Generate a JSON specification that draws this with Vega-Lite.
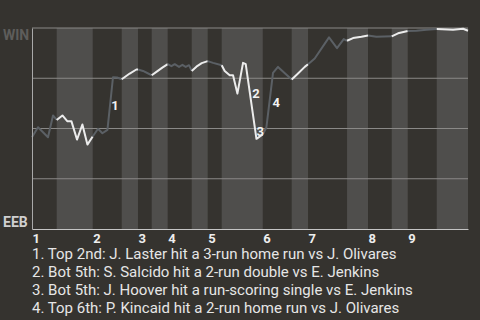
{
  "$schema": "https://vega.github.io/schema/vega-lite/v6.json",
  "width": 436,
  "height": 201,
  "autosize": {"type": "none"},
  "padding": {"left": 32, "top": 28, "right": 12, "bottom": 91},
  "background": "#35332f",
  "config": {"view": {"stroke": null}, "font": "Roboto"},
  "title": {
    "text": [
      "1. Top 2nd: J. Laster hit a 3-run home run vs J. Olivares",
      "2. Bot 5th: S. Salcido hit a 2-run double vs E. Jenkins",
      "3. Bot 5th: J. Hoover hit a run-scoring single vs E. Jenkins",
      "4. Top 6th: P. Kincaid hit a 2-run home run vs J. Olivares"
    ],
    "orient": "bottom",
    "anchor": "start",
    "frame": "group",
    "font": "Roboto",
    "fontSize": 15,
    "fontWeight": "normal",
    "color": "#e6e6e6",
    "lineHeight": 18,
    "offset": 2
  },
  "datasets": {
    "halves": [
      {"half": "T1", "side": "top", "start": 0, "end": 5.10},
      {"half": "B1", "side": "bot", "start": 5.10, "end": 12.53},
      {"half": "T2", "side": "top", "start": 12.53, "end": 18.52},
      {"half": "B2", "side": "bot", "start": 18.52, "end": 21.88},
      {"half": "T3", "side": "top", "start": 21.88, "end": 24.71},
      {"half": "B3", "side": "bot", "start": 24.71, "end": 28.01},
      {"half": "T4", "side": "top", "start": 28.01, "end": 32.97},
      {"half": "B4", "side": "bot", "start": 32.97, "end": 36.27},
      {"half": "T5", "side": "top", "start": 36.27, "end": 39.16},
      {"half": "B5", "side": "bot", "start": 39.16, "end": 47.63},
      {"half": "T6", "side": "top", "start": 47.63, "end": 53.61},
      {"half": "B6", "side": "bot", "start": 53.61, "end": 56.98},
      {"half": "T7", "side": "top", "start": 56.98, "end": 65.03},
      {"half": "B7", "side": "bot", "start": 65.03, "end": 69.36},
      {"half": "T8", "side": "top", "start": 69.36, "end": 74.26},
      {"half": "B8", "side": "bot", "start": 74.26, "end": 77.56},
      {"half": "T9", "side": "top", "start": 77.56, "end": 83.55},
      {"half": "B9", "side": "bot", "start": 83.55, "end": 90}
    ],
    "grid": [{"wp": 25}, {"wp": 50}, {"wp": 75}, {"wp": 100}],
    "wp": [
      {"half": "T1", "side": "top", "play": 0, "wp": 45.65},
      {"half": "T1", "side": "top", "play": 1.24, "wp": 50.65},
      {"half": "T1", "side": "top", "play": 3.30, "wp": 45.65},
      {"half": "T1", "side": "top", "play": 4.34, "wp": 56.5},
      {"half": "T1", "side": "top", "play": 5.10, "wp": 54.25},
      {"half": "B1", "side": "bot", "play": 5.10, "wp": 54.25},
      {"half": "B1", "side": "bot", "play": 6.28, "wp": 56.5},
      {"half": "B1", "side": "bot", "play": 7.27, "wp": 53.65},
      {"half": "B1", "side": "bot", "play": 8.13, "wp": 53.65},
      {"half": "B1", "side": "bot", "play": 9.29, "wp": 44.5},
      {"half": "B1", "side": "bot", "play": 10.40, "wp": 52},
      {"half": "B1", "side": "bot", "play": 11.44, "wp": 42},
      {"half": "B1", "side": "bot", "play": 12.53, "wp": 46},
      {"half": "T2", "side": "top", "play": 12.53, "wp": 46},
      {"half": "T2", "side": "top", "play": 13.63, "wp": 49.85},
      {"half": "T2", "side": "top", "play": 14.53, "wp": 47.65},
      {"half": "T2", "side": "top", "play": 15.57, "wp": 49.35},
      {"half": "T2", "side": "top", "play": 16.72, "wp": 75.5},
      {"half": "T2", "side": "top", "play": 17.55, "wp": 75.35},
      {"half": "T2", "side": "top", "play": 18.52, "wp": 74.5},
      {"half": "B2", "side": "bot", "play": 18.52, "wp": 74.5},
      {"half": "B2", "side": "bot", "play": 20.17, "wp": 77.35},
      {"half": "B2", "side": "bot", "play": 21.55, "wp": 79.35},
      {"half": "B2", "side": "bot", "play": 21.88, "wp": 79.35},
      {"half": "T3", "side": "top", "play": 21.88, "wp": 79.35},
      {"half": "T3", "side": "top", "play": 22.92, "wp": 78.65},
      {"half": "T3", "side": "top", "play": 24.71, "wp": 76.5},
      {"half": "B3", "side": "bot", "play": 24.71, "wp": 76.5},
      {"half": "B3", "side": "bot", "play": 25.68, "wp": 78.15},
      {"half": "B3", "side": "bot", "play": 26.9, "wp": 80.3},
      {"half": "B3", "side": "bot", "play": 28.01, "wp": 82},
      {"half": "T4", "side": "top", "play": 28.01, "wp": 82},
      {"half": "T4", "side": "top", "play": 28.78, "wp": 81},
      {"half": "T4", "side": "top", "play": 29.46, "wp": 82},
      {"half": "T4", "side": "top", "play": 30.35, "wp": 80.65},
      {"half": "T4", "side": "top", "play": 31.05, "wp": 81.65},
      {"half": "T4", "side": "top", "play": 31.73, "wp": 80.65},
      {"half": "T4", "side": "top", "play": 32.41, "wp": 81.5},
      {"half": "T4", "side": "top", "play": 32.97, "wp": 78.65},
      {"half": "B4", "side": "bot", "play": 32.97, "wp": 78.65},
      {"half": "B4", "side": "bot", "play": 33.94, "wp": 80.75},
      {"half": "B4", "side": "bot", "play": 35.03, "wp": 82.5},
      {"half": "B4", "side": "bot", "play": 36.27, "wp": 83.5},
      {"half": "T5", "side": "top", "play": 36.27, "wp": 83.5},
      {"half": "T5", "side": "top", "play": 37.37, "wp": 82.65},
      {"half": "T5", "side": "top", "play": 39.16, "wp": 81.5},
      {"half": "B5", "side": "bot", "play": 39.16, "wp": 81.5},
      {"half": "B5", "side": "bot", "play": 39.78, "wp": 78.65},
      {"half": "B5", "side": "bot", "play": 40.81, "wp": 76.5},
      {"half": "B5", "side": "bot", "play": 41.50, "wp": 76.5},
      {"half": "B5", "side": "bot", "play": 42.40, "wp": 67.35},
      {"half": "B5", "side": "bot", "play": 43.56, "wp": 82.65},
      {"half": "B5", "side": "bot", "play": 44.12, "wp": 82},
      {"half": "B5", "side": "bot", "play": 46.33, "wp": 44.85},
      {"half": "B5", "side": "bot", "play": 47.63, "wp": 47},
      {"half": "T6", "side": "top", "play": 47.63, "wp": 47},
      {"half": "T6", "side": "top", "play": 48.39, "wp": 50.65},
      {"half": "T6", "side": "top", "play": 49.75, "wp": 77.65},
      {"half": "T6", "side": "top", "play": 50.78, "wp": 80.65},
      {"half": "T6", "side": "top", "play": 53.61, "wp": 74.35},
      {"half": "B6", "side": "bot", "play": 53.61, "wp": 74.35},
      {"half": "B6", "side": "bot", "play": 54.91, "wp": 77.35},
      {"half": "B6", "side": "bot", "play": 56.30, "wp": 80.65},
      {"half": "B6", "side": "bot", "play": 56.98, "wp": 82},
      {"half": "T7", "side": "top", "play": 56.98, "wp": 82},
      {"half": "T7", "side": "top", "play": 58.36, "wp": 84.85},
      {"half": "T7", "side": "top", "play": 61.31, "wp": 95.35},
      {"half": "T7", "side": "top", "play": 62.96, "wp": 90},
      {"half": "T7", "side": "top", "play": 64.35, "wp": 94.5},
      {"half": "T7", "side": "top", "play": 65.03, "wp": 93.65},
      {"half": "B7", "side": "bot", "play": 65.03, "wp": 93.65},
      {"half": "B7", "side": "bot", "play": 66.27, "wp": 95},
      {"half": "B7", "side": "bot", "play": 68.00, "wp": 95.65},
      {"half": "B7", "side": "bot", "play": 69.36, "wp": 96.25},
      {"half": "T8", "side": "top", "play": 69.36, "wp": 96.25},
      {"half": "T8", "side": "top", "play": 71.10, "wp": 95.65},
      {"half": "T8", "side": "top", "play": 74.26, "wp": 95.85},
      {"half": "B8", "side": "bot", "play": 74.26, "wp": 95.85},
      {"half": "B8", "side": "bot", "play": 75.56, "wp": 97.35},
      {"half": "B8", "side": "bot", "play": 77.56, "wp": 98.5},
      {"half": "T9", "side": "top", "play": 77.56, "wp": 98.5},
      {"half": "T9", "side": "top", "play": 79.36, "wp": 98.65},
      {"half": "T9", "side": "top", "play": 81.42, "wp": 99.15},
      {"half": "T9", "side": "top", "play": 83.55, "wp": 99.5},
      {"half": "B9", "side": "bot", "play": 83.55, "wp": 99.5},
      {"half": "B9", "side": "bot", "play": 86.91, "wp": 99.15},
      {"half": "B9", "side": "bot", "play": 88.98, "wp": 99.65},
      {"half": "B9", "side": "bot", "play": 90, "wp": 98.65}
    ],
    "notes": [
      {"n": "1", "play": 17.13, "wp": 61.35},
      {"n": "2", "play": 46.24, "wp": 67.1},
      {"n": "3", "play": 47.1, "wp": 48.5},
      {"n": "4", "play": 50.4, "wp": 62.75}
    ]
  },
  "layer": [
    {
      "data": {"name": "halves"},
      "transform": [{"filter": "datum.side == 'bot'"}],
      "mark": {"type": "rect", "color": "#4f4e4c"},
      "encoding": {
        "x": {
          "field": "start", "type": "quantitative",
          "scale": {"domain": [0, 90], "nice": false, "zero": false},
          "axis": {
            "values": [0, 12.53, 21.88, 28.01, 36.27, 47.63, 56.98, 69.36, 77.56],
            "labelExpr": "indexof([0, 12.53, 21.88, 28.01, 36.27, 47.63, 56.98, 69.36, 77.56], datum.value) + 1",
            "title": null, "grid": false, "ticks": false, "tickSize": 0,
            "labelAlign": "left", "labelBaseline": "top", "labelPadding": 3,
            "labelFont": "Roboto", "labelFontSize": 13, "labelFontWeight": "bold",
            "labelColor": "#eeeeee", "labelFlush": false, "labelOverlap": false,
            "domainColor": "#c4c4c4", "domainWidth": 1, "zindex": 1
          }
        },
        "x2": {"field": "end"}
      }
    },
    {
      "data": {"name": "grid"},
      "mark": {"type": "rule", "color": "#8a8987", "strokeWidth": 1},
      "encoding": {
        "y": {
          "field": "wp", "type": "quantitative",
          "scale": {"domain": [0, 100], "nice": false},
          "axis": {
            "values": [0, 100],
            "labelExpr": "datum.value == 100 ? 'WIN' : 'EEB'",
            "title": null, "grid": false, "ticks": false, "tickSize": 0,
            "labelAlign": "left", "labelPadding": 29.5, "labelFlush": true, "labelFlushOffset": 0,
            "labelFont": "Roboto", "labelFontSize": 14, "labelFontWeight": "bold",
            "labelColor": {"condition": {"test": "datum.value == 100", "value": "#5e5d5b"}, "value": "#cfcfcf"},
            "domainColor": "#a9a9a9", "domainWidth": 1, "zindex": 1
          }
        }
      }
    },
    {
      "data": {"name": "wp"},
      "mark": {"type": "line", "strokeWidth": 2, "strokeJoin": "round"},
      "encoding": {
        "x": {"field": "play", "type": "quantitative"},
        "y": {"field": "wp", "type": "quantitative"},
        "detail": {"field": "half", "type": "nominal"},
        "color": {"field": "side", "type": "nominal", "scale": {"domain": ["top", "bot"], "range": ["#5b6065", "#ececec"]}, "legend": null}
      }
    },
    {
      "data": {"name": "notes"},
      "mark": {"type": "text", "font": "Roboto", "fontSize": 13, "fontWeight": "bold", "color": "#f2f2f2", "align": "center", "baseline": "middle"},
      "encoding": {
        "x": {"field": "play", "type": "quantitative"},
        "y": {"field": "wp", "type": "quantitative"},
        "text": {"field": "n"}
      }
    }
  ]
}
